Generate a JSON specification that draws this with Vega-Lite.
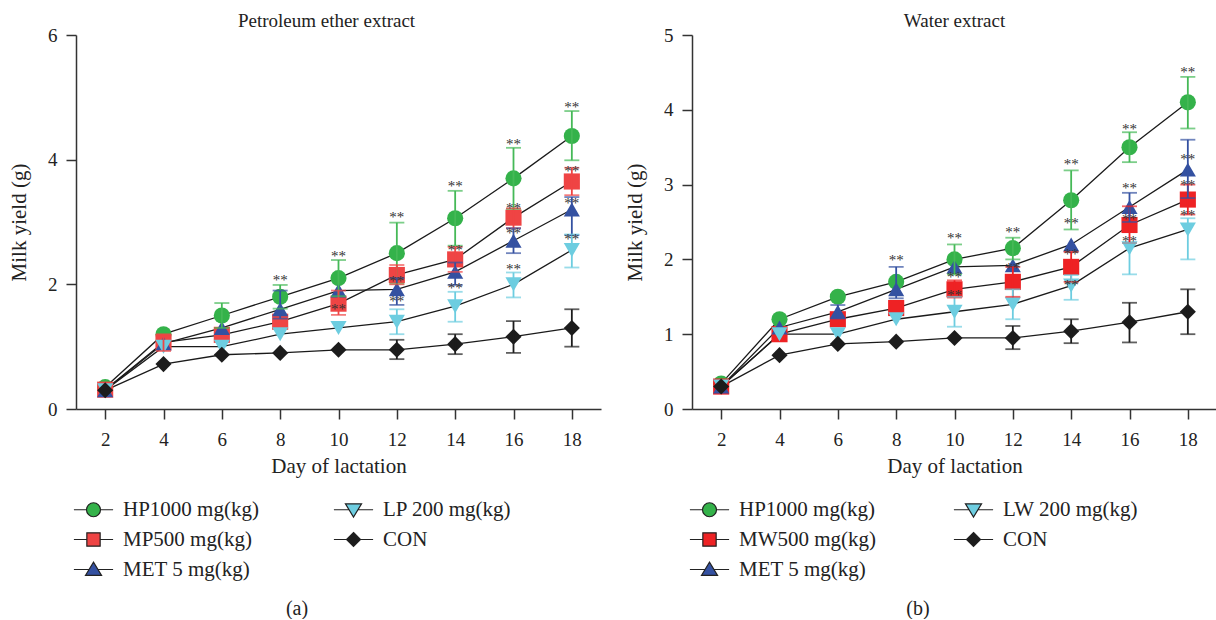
{
  "$schema": "https://vega.github.io/schema/vega-lite/v6.json",
  "padding": {"left": 8, "top": 12, "right": 0, "bottom": 0},
  "background": "white",
  "config": {
    "font": "Liberation Serif",
    "view": {"stroke": null},
    "axis": {"domainColor": "#333", "tickColor": "#333", "domainWidth": 1.5, "tickWidth": 1.5, "tickSize": 10, "labelFontSize": 19, "titleFontSize": 21, "labelColor": "#222", "titleColor": "#222", "grid": false, "titleFontWeight": "normal", "labelFont": "Liberation Serif", "titleFont": "Liberation Serif"},
    "title": {"fontSize": 19, "fontWeight": "normal", "color": "#222", "font": "Liberation Serif"},
    "legend": {"labelFont": "Liberation Serif", "titleFont": "Liberation Serif"}
  },
  "datasets": {
    "pa": [
      {"s": "HP1000 mg(kg)", "d": 2, "m": 0.35, "lo": null, "hi": null},
      {"s": "HP1000 mg(kg)", "d": 4, "m": 1.2, "lo": null, "hi": null},
      {"s": "HP1000 mg(kg)", "d": 6, "m": 1.5, "lo": 1.3, "hi": 1.7},
      {"s": "HP1000 mg(kg)", "d": 8, "m": 1.8, "lo": 1.61, "hi": 1.99},
      {"s": "HP1000 mg(kg)", "d": 10, "m": 2.1, "lo": 1.81, "hi": 2.39},
      {"s": "HP1000 mg(kg)", "d": 12, "m": 2.5, "lo": 2.01, "hi": 2.99},
      {"s": "HP1000 mg(kg)", "d": 14, "m": 3.06, "lo": 2.62, "hi": 3.5},
      {"s": "HP1000 mg(kg)", "d": 16, "m": 3.7, "lo": 3.21, "hi": 4.19},
      {"s": "HP1000 mg(kg)", "d": 18, "m": 4.38, "lo": 3.99, "hi": 4.78},
      {"s": "MP500 mg(kg)", "d": 2, "m": 0.31, "lo": null, "hi": null},
      {"s": "MP500 mg(kg)", "d": 4, "m": 1.07, "lo": 0.93, "hi": 1.2},
      {"s": "MP500 mg(kg)", "d": 6, "m": 1.19, "lo": null, "hi": null},
      {"s": "MP500 mg(kg)", "d": 8, "m": 1.4, "lo": null, "hi": null},
      {"s": "MP500 mg(kg)", "d": 10, "m": 1.69, "lo": 1.51, "hi": 1.9},
      {"s": "MP500 mg(kg)", "d": 12, "m": 2.15, "lo": 2.0, "hi": 2.31},
      {"s": "MP500 mg(kg)", "d": 14, "m": 2.4, "lo": 2.2, "hi": 2.6},
      {"s": "MP500 mg(kg)", "d": 16, "m": 3.07, "lo": 2.9, "hi": 3.22},
      {"s": "MP500 mg(kg)", "d": 18, "m": 3.65, "lo": 3.43, "hi": 3.87},
      {"s": "MET 5 mg(kg)", "d": 2, "m": 0.3, "lo": null, "hi": null},
      {"s": "MET 5 mg(kg)", "d": 4, "m": 1.05, "lo": null, "hi": null},
      {"s": "MET 5 mg(kg)", "d": 6, "m": 1.3, "lo": null, "hi": null},
      {"s": "MET 5 mg(kg)", "d": 8, "m": 1.6, "lo": 1.45, "hi": 1.9},
      {"s": "MET 5 mg(kg)", "d": 10, "m": 1.9, "lo": null, "hi": null},
      {"s": "MET 5 mg(kg)", "d": 12, "m": 1.92, "lo": 1.67, "hi": 2.1},
      {"s": "MET 5 mg(kg)", "d": 14, "m": 2.2, "lo": 1.99, "hi": 2.35},
      {"s": "MET 5 mg(kg)", "d": 16, "m": 2.7, "lo": 2.5, "hi": 2.9},
      {"s": "MET 5 mg(kg)", "d": 18, "m": 3.2, "lo": 2.79, "hi": 3.4},
      {"s": "LP 200 mg(kg)", "d": 2, "m": 0.3, "lo": null, "hi": null},
      {"s": "LP 200 mg(kg)", "d": 4, "m": 1.0, "lo": null, "hi": null},
      {"s": "LP 200 mg(kg)", "d": 6, "m": 1.0, "lo": null, "hi": null},
      {"s": "LP 200 mg(kg)", "d": 8, "m": 1.2, "lo": null, "hi": null},
      {"s": "LP 200 mg(kg)", "d": 10, "m": 1.3, "lo": null, "hi": null},
      {"s": "LP 200 mg(kg)", "d": 12, "m": 1.4, "lo": 1.2, "hi": 1.6},
      {"s": "LP 200 mg(kg)", "d": 14, "m": 1.65, "lo": 1.4, "hi": 1.88},
      {"s": "LP 200 mg(kg)", "d": 16, "m": 2.0, "lo": 1.79, "hi": 2.19},
      {"s": "LP 200 mg(kg)", "d": 18, "m": 2.55, "lo": 2.27, "hi": 2.8},
      {"s": "CON", "d": 2, "m": 0.3, "lo": null, "hi": null},
      {"s": "CON", "d": 4, "m": 0.72, "lo": null, "hi": null},
      {"s": "CON", "d": 6, "m": 0.87, "lo": null, "hi": null},
      {"s": "CON", "d": 8, "m": 0.9, "lo": null, "hi": null},
      {"s": "CON", "d": 10, "m": 0.95, "lo": null, "hi": null},
      {"s": "CON", "d": 12, "m": 0.95, "lo": 0.8, "hi": 1.11},
      {"s": "CON", "d": 14, "m": 1.04, "lo": 0.88, "hi": 1.2},
      {"s": "CON", "d": 16, "m": 1.16, "lo": 0.9, "hi": 1.41},
      {"s": "CON", "d": 18, "m": 1.3, "lo": 1.0, "hi": 1.6}
    ],
    "pb": [
      {"s": "HP1000 mg(kg)", "d": 2, "m": 0.34, "lo": null, "hi": null},
      {"s": "HP1000 mg(kg)", "d": 4, "m": 1.2, "lo": null, "hi": null},
      {"s": "HP1000 mg(kg)", "d": 6, "m": 1.5, "lo": null, "hi": null},
      {"s": "HP1000 mg(kg)", "d": 8, "m": 1.7, "lo": null, "hi": null},
      {"s": "HP1000 mg(kg)", "d": 10, "m": 2.0, "lo": 1.8, "hi": 2.2},
      {"s": "HP1000 mg(kg)", "d": 12, "m": 2.15, "lo": 2.0, "hi": 2.29},
      {"s": "HP1000 mg(kg)", "d": 14, "m": 2.79, "lo": 2.4, "hi": 3.19},
      {"s": "HP1000 mg(kg)", "d": 16, "m": 3.5, "lo": 3.3, "hi": 3.7},
      {"s": "HP1000 mg(kg)", "d": 18, "m": 4.1, "lo": 3.75, "hi": 4.44},
      {"s": "MW500 mg(kg)", "d": 2, "m": 0.3, "lo": null, "hi": null},
      {"s": "MW500 mg(kg)", "d": 4, "m": 1.0, "lo": null, "hi": null},
      {"s": "MW500 mg(kg)", "d": 6, "m": 1.2, "lo": null, "hi": null},
      {"s": "MW500 mg(kg)", "d": 8, "m": 1.35, "lo": null, "hi": null},
      {"s": "MW500 mg(kg)", "d": 10, "m": 1.6, "lo": 1.49, "hi": 1.72},
      {"s": "MW500 mg(kg)", "d": 12, "m": 1.7, "lo": 1.5, "hi": 1.9},
      {"s": "MW500 mg(kg)", "d": 14, "m": 1.9, "lo": 1.7, "hi": 2.1},
      {"s": "MW500 mg(kg)", "d": 16, "m": 2.46, "lo": 2.22, "hi": 2.71},
      {"s": "MW500 mg(kg)", "d": 18, "m": 2.8, "lo": 2.6, "hi": 3.0},
      {"s": "MET 5 mg(kg)", "d": 2, "m": 0.3, "lo": null, "hi": null},
      {"s": "MET 5 mg(kg)", "d": 4, "m": 1.09, "lo": null, "hi": null},
      {"s": "MET 5 mg(kg)", "d": 6, "m": 1.3, "lo": 1.21, "hi": 1.39},
      {"s": "MET 5 mg(kg)", "d": 8, "m": 1.6, "lo": 1.48, "hi": 1.9},
      {"s": "MET 5 mg(kg)", "d": 10, "m": 1.9, "lo": null, "hi": null},
      {"s": "MET 5 mg(kg)", "d": 12, "m": 1.92, "lo": null, "hi": null},
      {"s": "MET 5 mg(kg)", "d": 14, "m": 2.2, "lo": null, "hi": null},
      {"s": "MET 5 mg(kg)", "d": 16, "m": 2.7, "lo": 2.5, "hi": 2.89},
      {"s": "MET 5 mg(kg)", "d": 18, "m": 3.2, "lo": 2.82, "hi": 3.6},
      {"s": "LW 200 mg(kg)", "d": 2, "m": 0.3, "lo": null, "hi": null},
      {"s": "LW 200 mg(kg)", "d": 4, "m": 1.0, "lo": null, "hi": null},
      {"s": "LW 200 mg(kg)", "d": 6, "m": 1.0, "lo": null, "hi": null},
      {"s": "LW 200 mg(kg)", "d": 8, "m": 1.2, "lo": null, "hi": null},
      {"s": "LW 200 mg(kg)", "d": 10, "m": 1.3, "lo": 1.1, "hi": 1.5},
      {"s": "LW 200 mg(kg)", "d": 12, "m": 1.4, "lo": 1.2, "hi": 1.6},
      {"s": "LW 200 mg(kg)", "d": 14, "m": 1.65, "lo": 1.46, "hi": 1.79},
      {"s": "LW 200 mg(kg)", "d": 16, "m": 2.15, "lo": 1.8, "hi": 2.22},
      {"s": "LW 200 mg(kg)", "d": 18, "m": 2.4, "lo": 2.0, "hi": 2.55},
      {"s": "CON", "d": 2, "m": 0.3, "lo": null, "hi": null},
      {"s": "CON", "d": 4, "m": 0.72, "lo": null, "hi": null},
      {"s": "CON", "d": 6, "m": 0.87, "lo": null, "hi": null},
      {"s": "CON", "d": 8, "m": 0.9, "lo": null, "hi": null},
      {"s": "CON", "d": 10, "m": 0.95, "lo": null, "hi": null},
      {"s": "CON", "d": 12, "m": 0.95, "lo": 0.8, "hi": 1.11},
      {"s": "CON", "d": 14, "m": 1.04, "lo": 0.88, "hi": 1.2},
      {"s": "CON", "d": 16, "m": 1.16, "lo": 0.89, "hi": 1.42},
      {"s": "CON", "d": 18, "m": 1.3, "lo": 1.0, "hi": 1.6}
    ],
    "sa": [
      {"d": 8, "y": 2.07}, {"d": 10, "y": 2.45}, {"d": 10, "y": 1.6},
      {"d": 12, "y": 3.08}, {"d": 12, "y": 2.06}, {"d": 12, "y": 1.73},
      {"d": 14, "y": 3.57}, {"d": 14, "y": 2.55}, {"d": 14, "y": 1.94},
      {"d": 16, "y": 4.25}, {"d": 16, "y": 3.23}, {"d": 16, "y": 2.82}, {"d": 16, "y": 2.25},
      {"d": 18, "y": 4.85}, {"d": 18, "y": 3.82}, {"d": 18, "y": 3.3}, {"d": 18, "y": 2.72}
    ],
    "sb": [
      {"d": 8, "y": 1.99}, {"d": 10, "y": 2.29}, {"d": 10, "y": 1.77}, {"d": 10, "y": 1.52},
      {"d": 12, "y": 2.37}, {"d": 12, "y": 1.89},
      {"d": 14, "y": 3.27}, {"d": 14, "y": 2.48}, {"d": 14, "y": 2.07}, {"d": 14, "y": 1.66},
      {"d": 16, "y": 3.75}, {"d": 16, "y": 2.96}, {"d": 16, "y": 2.54}, {"d": 16, "y": 2.24},
      {"d": 18, "y": 4.5}, {"d": 18, "y": 3.34}, {"d": 18, "y": 2.99}, {"d": 18, "y": 2.6}
    ]
  },
  "hconcat": [
    {
      "width": 525,
      "height": 374,
      "title": {"text": "Petroleum ether extract", "offset": -20, "baseline": "alphabetic", "dx": -12},
      "data": {"name": "pa"},
      "layer": [
        {
          "mark": {"type": "line", "color": "#1a1a1a", "strokeWidth": 1.3},
          "encoding": {
            "x": {"field": "d", "type": "quantitative", "scale": {"domain": [1, 19], "nice": false}, "axis": {"values": [2, 4, 6, 8, 10, 12, 14, 16, 18], "title": "Day of lactation", "labelPadding": 11, "titlePadding": 6}},
            "y": {"field": "m", "type": "quantitative", "scale": {"domain": [0, 6], "nice": false}, "axis": {"values": [0, 2, 4, 6], "format": "d", "title": "Milk yield (g)", "labelPadding": 9, "titlePadding": 18}},
            "detail": {"field": "s"}
          }
        },
        {
          "mark": {"type": "point", "filled": true, "opacity": 1, "size": 260},
          "encoding": {
            "x": {"field": "d", "type": "quantitative"},
            "y": {"field": "m", "type": "quantitative"},
            "color": {"field": "s", "type": "nominal", "scale": {"domain": ["HP1000 mg(kg)", "MP500 mg(kg)", "MET 5 mg(kg)", "LP 200 mg(kg)", "CON"], "range": ["#34b24a", "#ef4444", "#3451a1", "#6dcde0", "#1c1c1c"]}, "legend": null},
            "shape": {"field": "s", "type": "nominal", "scale": {"domain": ["HP1000 mg(kg)", "MP500 mg(kg)", "MET 5 mg(kg)", "LP 200 mg(kg)", "CON"], "range": ["circle", "square", "triangle-up", "triangle-down", "diamond"]}, "legend": null}
          }
        },
        {
          "mark": {"type": "rule", "strokeWidth": 1.8},
          "encoding": {
            "x": {"field": "d", "type": "quantitative"},
            "y": {"field": "lo", "type": "quantitative"},
            "y2": {"field": "hi"},
            "color": {"field": "s", "type": "nominal", "scale": {"domain": ["HP1000 mg(kg)", "MP500 mg(kg)", "MET 5 mg(kg)", "LP 200 mg(kg)", "CON"], "range": ["#45b957", "#ef4444", "#3451a1", "#6dcde0", "#1c1c1c"]}, "legend": null}
          }
        },
        {
          "mark": {"type": "tick", "thickness": 1.8, "size": 15, "orient": "horizontal"},
          "encoding": {
            "x": {"field": "d", "type": "quantitative"},
            "y": {"field": "lo", "type": "quantitative"},
            "color": {"field": "s", "type": "nominal", "scale": {"domain": ["HP1000 mg(kg)", "MP500 mg(kg)", "MET 5 mg(kg)", "LP 200 mg(kg)", "CON"], "range": ["#45b957", "#ef4444", "#3451a1", "#6dcde0", "#1c1c1c"]}, "legend": null}
          }
        },
        {
          "mark": {"type": "tick", "thickness": 1.8, "size": 15, "orient": "horizontal"},
          "encoding": {
            "x": {"field": "d", "type": "quantitative"},
            "y": {"field": "hi", "type": "quantitative"},
            "color": {"field": "s", "type": "nominal", "scale": {"domain": ["HP1000 mg(kg)", "MP500 mg(kg)", "MET 5 mg(kg)", "LP 200 mg(kg)", "CON"], "range": ["#45b957", "#ef4444", "#3451a1", "#6dcde0", "#1c1c1c"]}, "legend": null}
          }
        },
        {
          "data": {"name": "sa"},
          "mark": {"type": "text", "fontSize": 15, "color": "#333", "baseline": "middle", "font": "Liberation Serif"},
          "encoding": {
            "x": {"field": "d", "type": "quantitative"},
            "y": {"field": "y", "type": "quantitative"},
            "text": {"value": "**"}
          }
        },
        {
          "mark": {"type": "point", "filled": true, "opacity": 0},
          "encoding": {
            "x": {"field": "d", "type": "quantitative"},
            "y": {"field": "m", "type": "quantitative"},
            "color": {"field": "s", "type": "nominal", "scale": {"domain": ["HP1000 mg(kg)", "MP500 mg(kg)", "MET 5 mg(kg)", "LP 200 mg(kg)", "CON"], "range": ["#34b24a", "#ef4444", "#3451a1", "#6dcde0", "#1c1c1c"]},
              "legend": {"orient": "none", "legendX": 7, "legendY": 464, "columns": 2, "columnPadding": 72, "rowPadding": 8, "symbolSize": 196, "labelFontSize": 21, "labelOffset": 19, "labelColor": "#222", "labelLimit": 300, "title": "(a)", "titleOrient": "bottom", "titleAnchor": "middle", "titleFontSize": 20, "titleFontWeight": "normal", "titleColor": "#222", "titlePadding": 19, "symbolOpacity": 1, "symbolStrokeColor": "#222", "symbolStrokeWidth": 1.2, "padding": 0,
                "encode": {"symbols": {"update": {"stroke": {"value": "#222"}, "strokeWidth": {"value": 1.2}, "opacity": {"value": 1}}}}}},
            "shape": {"field": "s", "type": "nominal", "scale": {"domain": ["HP1000 mg(kg)", "MP500 mg(kg)", "MET 5 mg(kg)", "LP 200 mg(kg)", "CON"], "range": ["M-2.8,0H-1M1,0H2.8M-1,0A1,1,0,1,1,1,0A1,1,0,1,1,-1,0Z", "M-2.8,0H-0.95M0.95,0H2.8M-0.95,-0.95H0.95V0.95H-0.95Z", "M-2.8,0H-0.64M0.64,0H2.8M-1.15,0.85L0,-1.05L1.15,0.85Z", "M-2.8,0H-0.64M0.64,0H2.8M-1.15,-0.85L1.15,-0.85L0,1.05Z", "M-2.8,0H-1M1,0H2.8M0,-1L1,0L0,1L-1,0Z"]},
              "legend": {"orient": "none", "legendX": 7, "legendY": 464, "columns": 2, "columnPadding": 72, "rowPadding": 8, "symbolSize": 196, "labelFontSize": 21, "labelOffset": 19, "labelColor": "#222", "labelLimit": 300, "title": "(a)", "titleOrient": "bottom", "titleAnchor": "middle", "titleFontSize": 20, "titleFontWeight": "normal", "titleColor": "#222", "titlePadding": 19, "symbolOpacity": 1, "symbolStrokeColor": "#222", "symbolStrokeWidth": 1.2, "padding": 0,
                "encode": {"symbols": {"update": {"stroke": {"value": "#222"}, "strokeWidth": {"value": 1.2}, "opacity": {"value": 1}}}}}}
          }
        }
      ],
      "resolve": {"scale": {"color": "independent", "shape": "independent"}}
    },
    {
      "width": 525,
      "height": 374,
      "title": {"text": "Water extract", "offset": -20, "baseline": "alphabetic"},
      "data": {"name": "pb"},
      "layer": [
        {
          "mark": {"type": "line", "color": "#1a1a1a", "strokeWidth": 1.3},
          "encoding": {
            "x": {"field": "d", "type": "quantitative", "scale": {"domain": [1, 19], "nice": false}, "axis": {"values": [2, 4, 6, 8, 10, 12, 14, 16, 18], "title": "Day of lactation", "labelPadding": 11, "titlePadding": 6}},
            "y": {"field": "m", "type": "quantitative", "scale": {"domain": [0, 5], "nice": false}, "axis": {"values": [0, 1, 2, 3, 4, 5], "format": "d", "title": "Milk yield (g)", "labelPadding": 9, "titlePadding": 18}},
            "detail": {"field": "s"}
          }
        },
        {
          "mark": {"type": "point", "filled": true, "opacity": 1, "size": 260},
          "encoding": {
            "x": {"field": "d", "type": "quantitative"},
            "y": {"field": "m", "type": "quantitative"},
            "color": {"field": "s", "type": "nominal", "scale": {"domain": ["HP1000 mg(kg)", "MW500 mg(kg)", "MET 5 mg(kg)", "LW 200 mg(kg)", "CON"], "range": ["#34b24a", "#ee2224", "#3451a1", "#6dcde0", "#1c1c1c"]}, "legend": null},
            "shape": {"field": "s", "type": "nominal", "scale": {"domain": ["HP1000 mg(kg)", "MW500 mg(kg)", "MET 5 mg(kg)", "LW 200 mg(kg)", "CON"], "range": ["circle", "square", "triangle-up", "triangle-down", "diamond"]}, "legend": null}
          }
        },
        {
          "mark": {"type": "rule", "strokeWidth": 1.8},
          "encoding": {
            "x": {"field": "d", "type": "quantitative"},
            "y": {"field": "lo", "type": "quantitative"},
            "y2": {"field": "hi"},
            "color": {"field": "s", "type": "nominal", "scale": {"domain": ["HP1000 mg(kg)", "MW500 mg(kg)", "MET 5 mg(kg)", "LW 200 mg(kg)", "CON"], "range": ["#45b957", "#ee2224", "#3451a1", "#6dcde0", "#1c1c1c"]}, "legend": null}
          }
        },
        {
          "mark": {"type": "tick", "thickness": 1.8, "size": 15, "orient": "horizontal"},
          "encoding": {
            "x": {"field": "d", "type": "quantitative"},
            "y": {"field": "lo", "type": "quantitative"},
            "color": {"field": "s", "type": "nominal", "scale": {"domain": ["HP1000 mg(kg)", "MW500 mg(kg)", "MET 5 mg(kg)", "LW 200 mg(kg)", "CON"], "range": ["#45b957", "#ee2224", "#3451a1", "#6dcde0", "#1c1c1c"]}, "legend": null}
          }
        },
        {
          "mark": {"type": "tick", "thickness": 1.8, "size": 15, "orient": "horizontal"},
          "encoding": {
            "x": {"field": "d", "type": "quantitative"},
            "y": {"field": "hi", "type": "quantitative"},
            "color": {"field": "s", "type": "nominal", "scale": {"domain": ["HP1000 mg(kg)", "MW500 mg(kg)", "MET 5 mg(kg)", "LW 200 mg(kg)", "CON"], "range": ["#45b957", "#ee2224", "#3451a1", "#6dcde0", "#1c1c1c"]}, "legend": null}
          }
        },
        {
          "data": {"name": "sb"},
          "mark": {"type": "text", "fontSize": 15, "color": "#333", "baseline": "middle", "font": "Liberation Serif"},
          "encoding": {
            "x": {"field": "d", "type": "quantitative"},
            "y": {"field": "y", "type": "quantitative"},
            "text": {"value": "**"}
          }
        },
        {
          "mark": {"type": "point", "filled": true, "opacity": 0},
          "encoding": {
            "x": {"field": "d", "type": "quantitative"},
            "y": {"field": "m", "type": "quantitative"},
            "color": {"field": "s", "type": "nominal", "scale": {"domain": ["HP1000 mg(kg)", "MW500 mg(kg)", "MET 5 mg(kg)", "LW 200 mg(kg)", "CON"], "range": ["#34b24a", "#ee2224", "#3451a1", "#6dcde0", "#1c1c1c"]},
              "legend": {"orient": "none", "legendX": 7, "legendY": 464, "columns": 2, "columnPadding": 74, "rowPadding": 8, "symbolSize": 196, "labelFontSize": 21, "labelOffset": 19, "labelColor": "#222", "labelLimit": 300, "title": "(b)", "titleOrient": "bottom", "titleAnchor": "middle", "titleFontSize": 20, "titleFontWeight": "normal", "titleColor": "#222", "titlePadding": 19, "symbolOpacity": 1, "symbolStrokeColor": "#222", "symbolStrokeWidth": 1.2, "padding": 0,
                "encode": {"symbols": {"update": {"stroke": {"value": "#222"}, "strokeWidth": {"value": 1.2}, "opacity": {"value": 1}}}}}},
            "shape": {"field": "s", "type": "nominal", "scale": {"domain": ["HP1000 mg(kg)", "MW500 mg(kg)", "MET 5 mg(kg)", "LW 200 mg(kg)", "CON"], "range": ["M-2.8,0H-1M1,0H2.8M-1,0A1,1,0,1,1,1,0A1,1,0,1,1,-1,0Z", "M-2.8,0H-0.95M0.95,0H2.8M-0.95,-0.95H0.95V0.95H-0.95Z", "M-2.8,0H-0.64M0.64,0H2.8M-1.15,0.85L0,-1.05L1.15,0.85Z", "M-2.8,0H-0.64M0.64,0H2.8M-1.15,-0.85L1.15,-0.85L0,1.05Z", "M-2.8,0H-1M1,0H2.8M0,-1L1,0L0,1L-1,0Z"]},
              "legend": {"orient": "none", "legendX": 7, "legendY": 464, "columns": 2, "columnPadding": 74, "rowPadding": 8, "symbolSize": 196, "labelFontSize": 21, "labelOffset": 19, "labelColor": "#222", "labelLimit": 300, "title": "(b)", "titleOrient": "bottom", "titleAnchor": "middle", "titleFontSize": 20, "titleFontWeight": "normal", "titleColor": "#222", "titlePadding": 19, "symbolOpacity": 1, "symbolStrokeColor": "#222", "symbolStrokeWidth": 1.2, "padding": 0,
                "encode": {"symbols": {"update": {"stroke": {"value": "#222"}, "strokeWidth": {"value": 1.2}, "opacity": {"value": 1}}}}}}
          }
        }
      ],
      "resolve": {"scale": {"color": "independent", "shape": "independent"}}
    }
  ],
  "spacing": 23
}
